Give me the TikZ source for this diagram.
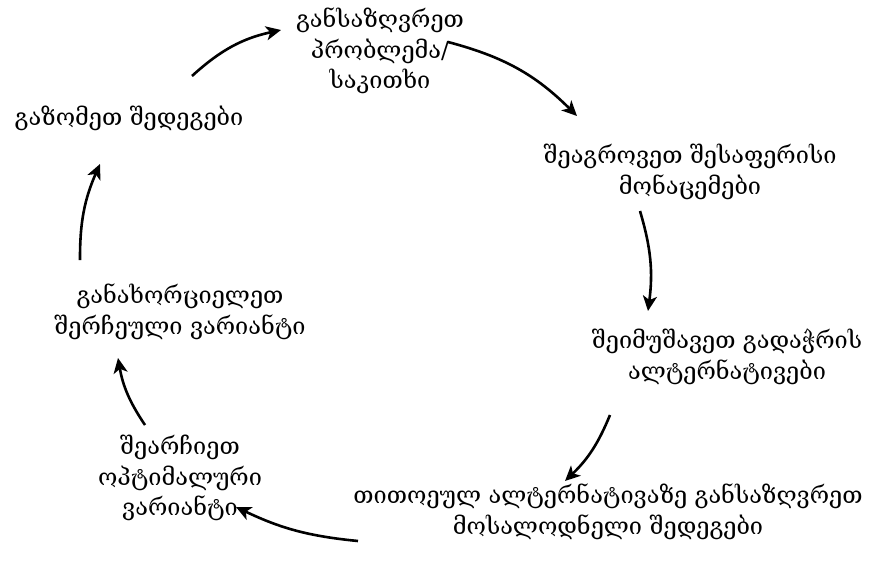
\documentclass[tikz,border=0pt]{standalone}
\usepackage{fontspec}
\newfontfamily\geo{DejaVu Serif}
\usetikzlibrary{arrows.meta}
\tikzset{
  lbl/.style={align=center, inner sep=0pt, font=\geo\fontsize{23.5}{30.5}\selectfont},
  arr/.style={line width=2.6pt, -{Stealth[length=15pt,width=14pt,inset=4pt]}}
}
\begin{document}
\begin{tikzpicture}[x=1pt,y=1pt]
\useasboundingbox (0,0) rectangle (876,-563);
\node[lbl] (n1) at (380,-51) {განსაზღვრეთ\\პრობლემა/\\საკითხი};
\node[lbl] (n2) at (690,-172) {შეაგროვეთ შესაფერისი\\მონაცემები};
\node[lbl] (n3) at (727,-357) {შეიმუშავეთ გადაჭრის\\ალტერნატივები};
\node[lbl] (n4) at (608,-512) {თითოეულ ალტერნატივაზე განსაზღვრეთ\\მოსალოდნელი შედეგები};
\node[lbl] (n5) at (180,-478) {შეარჩიეთ\\ოპტიმალური\\ვარიანტი};
\node[lbl] (n6) at (180,-312) {განახორციელეთ\\შერჩეული ვარიანტი};
\node[lbl] (n7) at (129,-118) {გაზომეთ შედეგები};
\coordinate (a1s) at (192,-76);  \coordinate (a1e) at (281,-30);
\coordinate (a2s) at (448,-42);  \coordinate (a2e) at (577,-116);
\coordinate (a3s) at (640,-211); \coordinate (a3e) at (648,-311);
\coordinate (a4s) at (610,-415); \coordinate (a4e) at (565,-481);
\coordinate (a5s) at (358,-541); \coordinate (a5e) at (236,-507);
\coordinate (a6s) at (145,-425); \coordinate (a6e) at (118,-358);
\coordinate (a7s) at (80,-260);  \coordinate (a7e) at (100,-164);
\draw[arr] (a1s) to[bend left=15] (a1e);
\draw[arr] (a2s) to[bend left=15] (a2e);
\draw[arr] (a3s) to[bend left=12] (a3e);
\draw[arr] (a4s) to[bend left=12] (a4e);
\draw[arr] (a5s) to[bend left=10] (a5e);
\draw[arr] (a6s) to[bend left=12] (a6e);
\draw[arr] (a7s) to[bend left=12] (a7e);
\end{tikzpicture}
\end{document}
